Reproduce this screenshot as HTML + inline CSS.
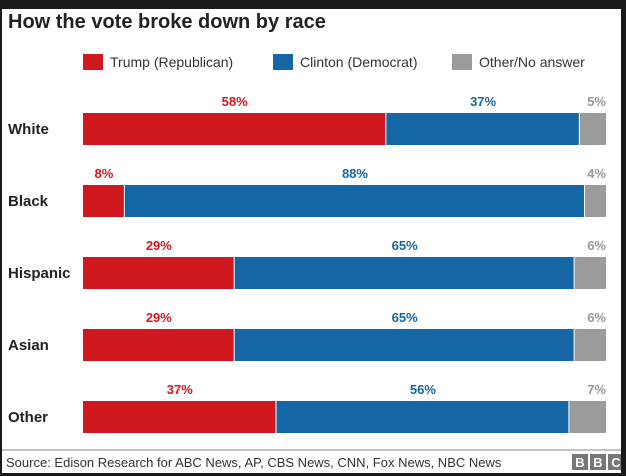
<!DOCTYPE html>
<html><head><meta charset="utf-8"><style>
body{margin:0;background:#1a1a1a;}
#wrap{position:absolute;left:2px;top:9px;width:619px;height:464px;background:#fff;overflow:hidden;font-family:"Liberation Sans",sans-serif;}
</style></head><body>
<div id="wrap">
<svg id="chart" width="626" height="476" style="position:absolute;left:-2px;top:-9px"></svg>
</div>
<script>
const categories=["White","Black","Hispanic","Asian","Other"];
const trump=[58,8,29,29,37];
const clinton=[37,88,65,65,56];
const other=[5,4,6,6,7];
const NS="http://www.w3.org/2000/svg";
const svg=document.getElementById('chart');
function el(t,a,txt){const e=document.createElementNS(NS,t);for(const k in a)e.setAttribute(k,a[k]);if(txt!=null)e.textContent=txt;svg.appendChild(e);return e;}
const x0=83,x1=606;
const xs=v=>x0+(x1-x0)*v/100;
const rowY=i=>113+i*72;
const barH=32;
const RED="#d0181f",BLUE="#1466a4",GREY="#9b9b9b";
let t=el('text',{x:8,y:28,'font-size':20,'font-weight':'bold',fill:'#222'},'How the vote broke down by race');


const leg=[["Trump (Republican)",RED,83],["Clinton (Democrat)",BLUE,273],["Other/No answer",GREY,452]];
leg.forEach(l=>{
 let r=el('rect',{x:l[2],y:54,width:20,height:16,fill:l[1]});
 
 
 let tx=el('text',{x:l[2]+27,y:67,'font-size':14,fill:'#333'},l[0]);
 
 
});
categories.forEach((c,i)=>{
 const y=rowY(i);
 let lb=el('text',{x:8,y:y+barH/2+5,'font-size':15,'font-weight':'bold',fill:'#222'},c);
 
 
 const segs=[[0,trump[i],RED],[trump[i],trump[i]+clinton[i],BLUE],[trump[i]+clinton[i],trump[i]+clinton[i]+other[i],GREY]];
 segs.forEach((s,j)=>{
  const a=xs(s[0]),b=Math.min(xs(s[1]),x1);
  let r=el('rect',{x:a,y:y,width:Math.max(0,b-a-(j<2?1:0)),height:barH,fill:s[2]});
  
  
  const v=s[1]-s[0];
  let lx=j<2?(a+b)/2:x1,anchor=j<2?'middle':'end';
  let vt=el('text',{x:lx,y:y-7,'font-size':13,'font-weight':'bold','text-anchor':anchor,fill:j==2?'#999':s[2]},v+'%');
  
  
 });
});
let ln=el('line',{x1:0,x2:626,y1:450,y2:450,stroke:'#888','stroke-width':1});


let src=el('text',{x:6,y:467,'font-size':13,fill:'#333'},'Source: Edison Research for ABC News, AP, CBS News, CNN, Fox News, NBC News');


["B","B","C"].forEach((ch,k)=>{
 let r=el('rect',{x:572+k*18,y:454,width:16,height:16,fill:'#777'});
 
 
 let tx=el('text',{x:580+k*18,y:467,'font-size':13,'font-weight':'bold','text-anchor':'middle',fill:'#fff'},ch);
 
 
});
</script>
</body></html>
